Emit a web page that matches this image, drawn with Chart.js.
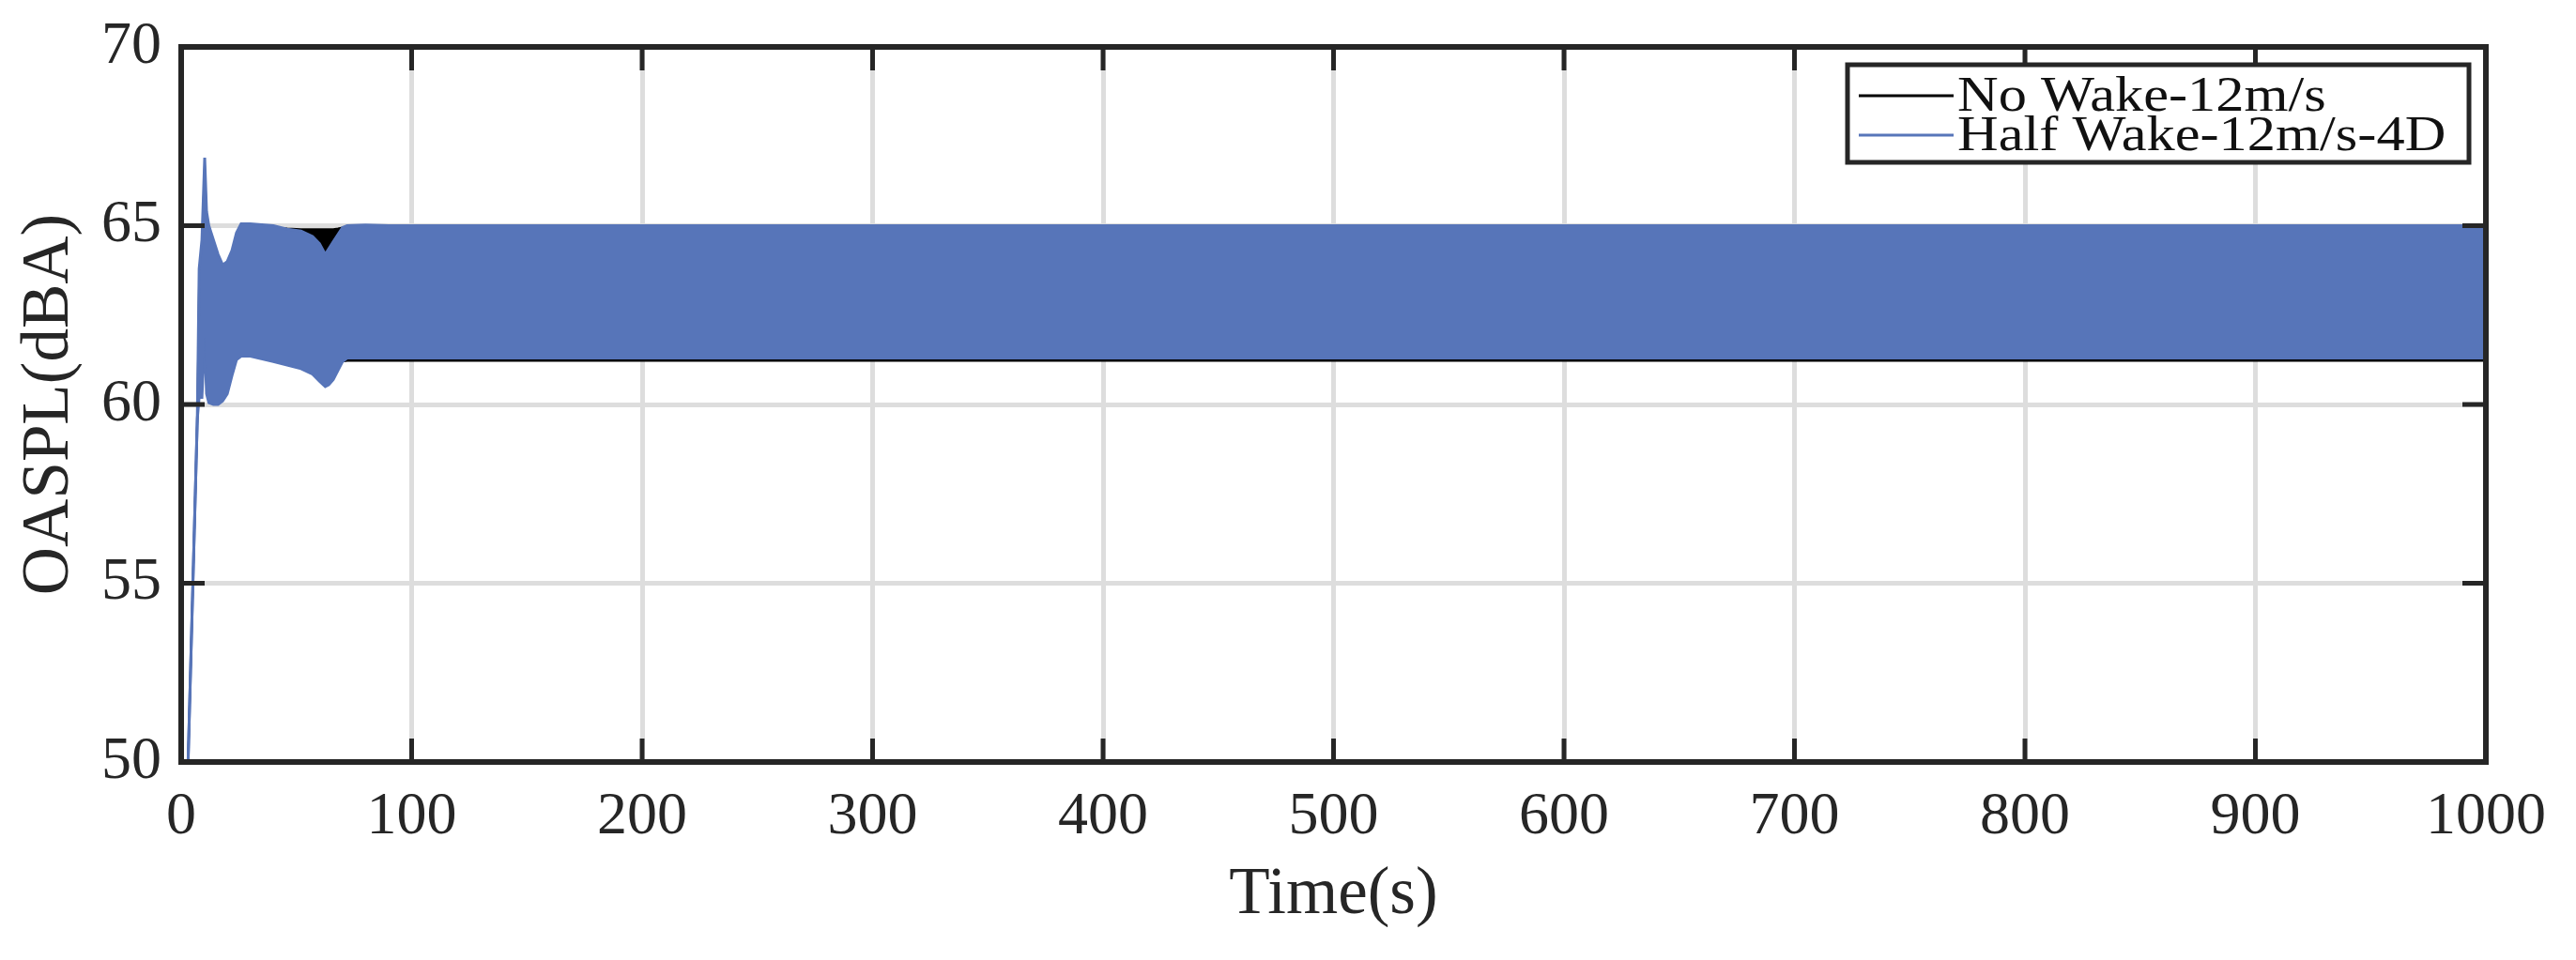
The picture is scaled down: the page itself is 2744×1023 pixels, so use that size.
<!DOCTYPE html>
<html>
<head>
<meta charset="utf-8">
<script src="https://cdn.jsdelivr.net/npm/chart.js@4.4.1/dist/chart.umd.min.js"></script>
<style>
  html, body { margin: 0; padding: 0; background: #fff; }
  #wrap { width: 2744px; height: 1023px; }
</style>
</head>
<body>
<div id="wrap"><canvas id="oasplChart" width="2744" height="1023"></canvas></div>
<script>
// time (s) shared by the envelope series
const timeS = [3, 7, 7.8, 9, 10.2, 11, 12, 14, 16, 18, 20, 22, 24, 26, 30, 40, 46, 52, 57, 60, 62.5, 64, 66, 68, 70, 72, 80, 90, 100, 200, 300, 400, 500, 600, 700, 800, 900, 1000];

// OASPL oscillates fast, so each case is kept as its upper / lower envelope (dBA)
const noWakeUpper   = [50, 59.6, 63.6, 64.4, 66.7, 65.2, 64.8, 64.5, 64.1, 63.8, 63.9, 64.2, 64.7, 64.95, 64.98, 64.95, 64.92, 64.9, 64.9, 64.9, 64.9, 64.9, 64.9, 64.92, 64.95, 64.97, 64.97, 64.97, 64.97, 64.97, 64.97, 64.97, 64.97, 64.97, 64.97, 64.97, 64.97, 64.97];
const noWakeLower   = [50, 59.6, 60.4, 60.4, 62.0, 60.5, 60.2, 60.2, 60.2, 60.3, 60.5, 60.9, 61.3, 61.4, 61.4, 61.3, 61.25, 61.25, 61.2, 61.2, 61.2, 61.2, 61.2, 61.2, 61.2, 61.22, 61.22, 61.22, 61.22, 61.22, 61.22, 61.22, 61.22, 61.22, 61.22, 61.22, 61.22, 61.22];
const halfWakeUpper = [50, 59.6, 63.8, 64.6, 66.9, 65.4, 65.0, 64.6, 64.2, 63.9, 64.0, 64.3, 64.8, 65.05, 65.05, 65.0, 64.9, 64.85, 64.7, 64.5, 64.2, 64.35, 64.55, 64.75, 64.95, 65.0, 65.02, 65.0, 65.0, 65.0, 65.0, 65.0, 65.0, 65.0, 65.0, 65.0, 65.0, 65.0];
const halfWakeLower = [50, 59.6, 60.2, 60.2, 61.9, 60.3, 60.05, 60.0, 60.0, 60.1, 60.3, 60.8, 61.25, 61.35, 61.35, 61.2, 61.1, 61.0, 60.85, 60.65, 60.5, 60.55, 60.7, 60.95, 61.2, 61.3, 61.3, 61.3, 61.3, 61.3, 61.3, 61.3, 61.3, 61.3, 61.3, 61.3, 61.3, 61.3];

const xTicks = [0, 100, 200, 300, 400, 500, 600, 700, 800, 900, 1000];
const yTicks = [50, 55, 60, 65, 70];

const seriesNames = ['No Wake-12m/s', 'Half Wake-12m/s-4D'];
const colorBlack = '#000000';
const colorBlue = '#5775b9';
const axisColor = '#262626';

const pts = arr => arr.map((v, i) => ({x: timeS[i], y: v}));

// frame + inward ticks on all four sides, like the matlab box
const boxAxes = {
    id: 'boxAxes',
    afterDatasetsDraw(chart) {
        const {ctx, chartArea: a, scales: {x, y}} = chart;
        const len = 25;
        ctx.save();
        ctx.strokeStyle = axisColor;
        ctx.lineWidth = 5;
        ctx.beginPath();
        xTicks.forEach(v => {
            const px = x.getPixelForValue(v);
            ctx.moveTo(px, a.bottom); ctx.lineTo(px, a.bottom - len);
            ctx.moveTo(px, a.top); ctx.lineTo(px, a.top + len);
        });
        yTicks.forEach(v => {
            const py = y.getPixelForValue(v);
            ctx.moveTo(a.left, py); ctx.lineTo(a.left + len, py);
            ctx.moveTo(a.right, py); ctx.lineTo(a.right - len, py);
        });
        ctx.stroke();
        ctx.lineWidth = 6;
        ctx.strokeRect(a.left, a.top, a.right - a.left, a.bottom - a.top);
        ctx.restore();
    }
};

// legend box drawn inside the plot, top right (matlab text comes out a bit wide)
const insideLegend = {
    id: 'insideLegend',
    afterDraw(chart) {
        const {ctx, chartArea: a} = chart;
        const w = 662, h = 104;
        const left = a.right - 18 - w, top = a.top + 19;
        const rows = [33, 75];
        const items = chart.data.datasets.filter(d => seriesNames.includes(d.label));
        ctx.save();
        ctx.fillStyle = '#ffffff';
        ctx.fillRect(left, top, w, h);
        ctx.strokeStyle = axisColor;
        ctx.lineWidth = 5;
        ctx.strokeRect(left, top, w, h);
        ctx.font = '53px "Liberation Serif"';
        ctx.textBaseline = 'middle';
        ctx.fillStyle = '#111111';
        items.forEach((d, i) => {
            const yy = top + rows[i];
            ctx.strokeStyle = d.borderColor;
            ctx.lineWidth = 3;
            ctx.beginPath();
            ctx.moveTo(left + 12, yy);
            ctx.lineTo(left + 113, yy);
            ctx.stroke();
            ctx.save();
            ctx.translate(left + 117, yy + 2);
            ctx.scale(1.14, 1);
            ctx.fillText(d.label, 0, 0);
            ctx.restore();
        });
        ctx.restore();
    }
};

const ctx = document.getElementById('oasplChart').getContext('2d');
const oasplChart = new Chart(ctx, {
    type: 'line',
    data: {
        datasets: [
            { label: 'No Wake low', data: pts(noWakeLower), borderColor: colorBlack, borderWidth: 2, fill: false, order: 4 },
            { label: seriesNames[0], data: pts(noWakeUpper), borderColor: colorBlack, backgroundColor: colorBlack, borderWidth: 2, fill: 0, order: 3 },
            { label: 'Half Wake low', data: pts(halfWakeLower), borderColor: colorBlue, borderWidth: 3, fill: false, order: 2 },
            { label: seriesNames[1], data: pts(halfWakeUpper), borderColor: colorBlue, backgroundColor: colorBlue, borderWidth: 3, fill: 2, order: 1 }
        ]
    },
    options: {
        responsive: false,
        animation: false,
        devicePixelRatio: 1,
        layout: { padding: { top: 50, right: 96, bottom: 0, left: 0 } },
        elements: { point: { radius: 0 }, line: { tension: 0 } },
        scales: {
            x: {
                type: 'linear',
                min: 0,
                max: 1000,
                afterBuildTicks: s => { s.ticks = xTicks.map(v => ({ value: v })); },
                afterFit: s => { s.height = 211; },
                grid: { color: '#dddddd', lineWidth: 5, drawTicks: false },
                border: { display: false },
                ticks: {
                    padding: 21, color: axisColor, maxRotation: 0,
                    font: { family: 'Liberation Serif', size: 64 },
                    callback: v => String(v)
                },
                title: { display: true, text: 'Time(s)', color: axisColor, font: { family: 'Liberation Serif', size: 71 }, padding: { top: 0, bottom: 26 } }
            },
            y: {
                min: 50,
                max: 70,
                afterBuildTicks: s => { s.ticks = yTicks.map(v => ({ value: v })); },
                afterFit: s => { s.width = 193; },
                grid: { color: '#dddddd', lineWidth: 5, drawTicks: false },
                border: { display: false },
                ticks: {
                    padding: 21, color: axisColor,
                    font: { family: 'Liberation Serif', size: 64, lineHeight: 0.8 }
                },
                title: { display: true, text: 'OASPL(dBA)', color: axisColor, font: { family: 'Liberation Serif', size: 71 }, padding: { top: 11, bottom: 0 } }
            }
        },
        plugins: {
            legend: { display: false },
            tooltip: { enabled: false }
        }
    },
    plugins: [boxAxes, insideLegend]
});
</script>
</body>
</html>
